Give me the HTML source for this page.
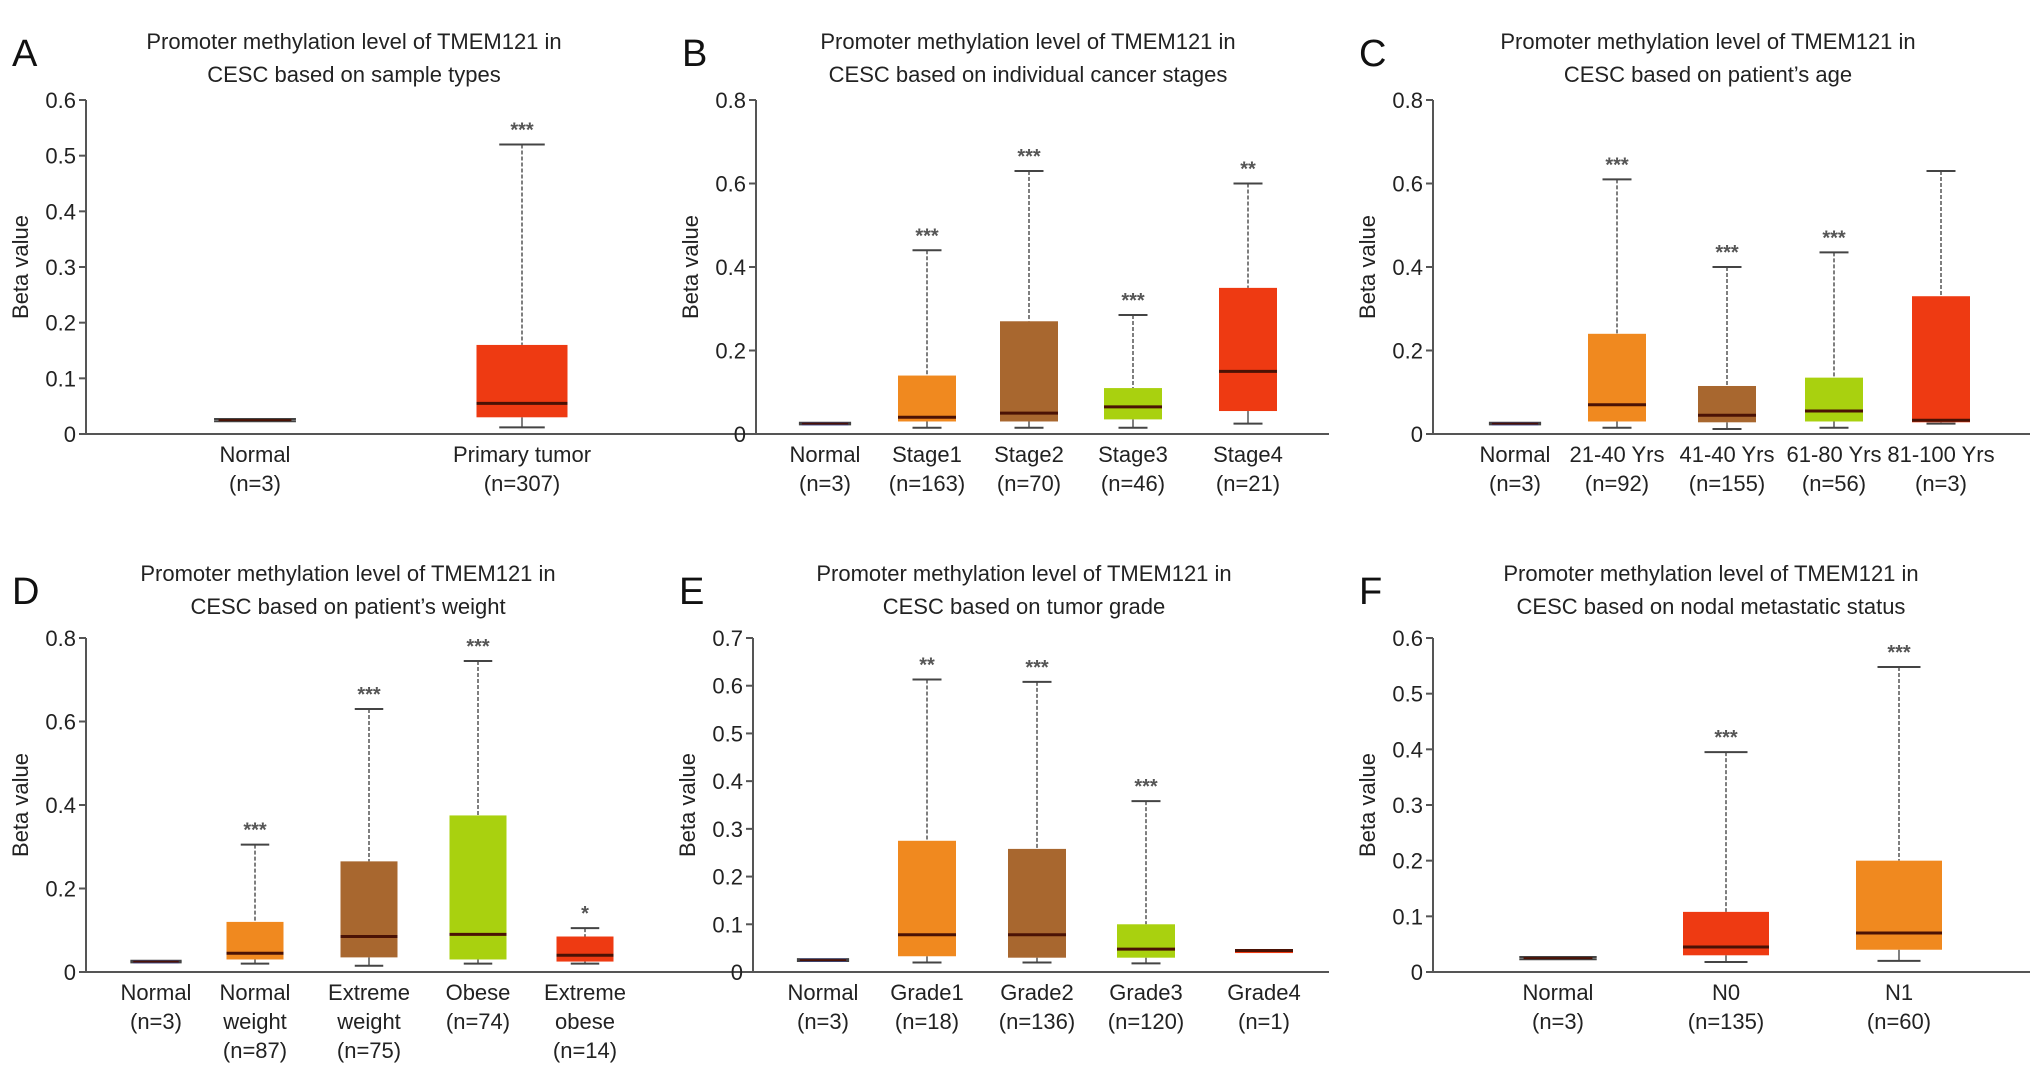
<!DOCTYPE html>
<html><head><meta charset="utf-8"><style>
body{margin:0;background:#fff;}
svg{display:block;font-family:"Liberation Sans",Arial,sans-serif;}
</style></head><body>
<svg id="fig" width="2032" height="1069" viewBox="0 0 2032 1069" xmlns="http://www.w3.org/2000/svg"></svg>
<script>
// ---- data ----
const aCats=[["Normal","(n=3)"],["Primary tumor","(n=307)"]];
const aLo=[0.023,0.012],aQ1=[0.022,0.03],aMed=[0.025,0.055],aQ3=[0.028,0.16],aHi=[0.027,0.52];
const aSig=["","***"];
const aTicks=[0,0.1,0.2,0.3,0.4,0.5,0.6];

const bCats=[["Normal","(n=3)"],["Stage1","(n=163)"],["Stage2","(n=70)"],["Stage3","(n=46)"],["Stage4","(n=21)"]];
const bLo=[0.023,0.015,0.015,0.015,0.025],bQ1=[0.022,0.03,0.03,0.035,0.055],bMed=[0.025,0.04,0.05,0.065,0.15],bQ3=[0.028,0.14,0.27,0.11,0.35],bHi=[0.027,0.44,0.63,0.285,0.6];
const bSig=["","***","***","***","**"];
const bTicks=[0,0.2,0.4,0.6,0.8];

const cCats=[["Normal","(n=3)"],["21-40 Yrs","(n=92)"],["41-40 Yrs","(n=155)"],["61-80 Yrs","(n=56)"],["81-100 Yrs","(n=3)"]];
const cLo=[0.023,0.015,0.012,0.015,0.025],cQ1=[0.022,0.03,0.028,0.03,0.028],cMed=[0.025,0.07,0.045,0.055,0.033],cQ3=[0.028,0.24,0.115,0.135,0.33],cHi=[0.027,0.61,0.4,0.435,0.63];
const cSig=["","***","***","***",""];
const cTicks=[0,0.2,0.4,0.6,0.8];

const dCats=[["Normal","(n=3)"],["Normal","weight","(n=87)"],["Extreme","weight","(n=75)"],["Obese","(n=74)"],["Extreme","obese","(n=14)"]];
const dLo=[0.023,0.02,0.015,0.02,0.02],dQ1=[0.022,0.03,0.035,0.03,0.025],dMed=[0.025,0.045,0.085,0.09,0.04],dQ3=[0.028,0.12,0.265,0.375,0.085],dHi=[0.027,0.305,0.63,0.745,0.105];
const dSig=["","***","***","***","*"];
const dTicks=[0,0.2,0.4,0.6,0.8];

const eCats=[["Normal","(n=3)"],["Grade1","(n=18)"],["Grade2","(n=136)"],["Grade3","(n=120)"],["Grade4","(n=1)"]];
const eLo=[0.023,0.02,0.02,0.018,0.045],eQ1=[0.022,0.033,0.03,0.03,0.044],eMed=[0.025,0.078,0.078,0.048,0.045],eQ3=[0.028,0.275,0.258,0.1,0.046],eHi=[0.027,0.613,0.608,0.358,0.045];
const eSig=["","**","***","***",""];
const eTicks=[0,0.1,0.2,0.3,0.4,0.5,0.6,0.7];

const fCats=[["Normal","(n=3)"],["N0","(n=135)"],["N1","(n=60)"]];
const fLo=[0.023,0.018,0.02],fQ1=[0.022,0.03,0.04],fMed=[0.025,0.045,0.07],fQ3=[0.028,0.108,0.2],fHi=[0.027,0.395,0.548];
const fSig=["","***","***"];
const fTicks=[0,0.1,0.2,0.3,0.4,0.5,0.6];

const RED="#ee3a12",ORA="#f0891f",BRN="#a8672f",GRN="#a9d10f",BLU="#3a4ca0";
const NS="http://www.w3.org/2000/svg";
const svg=document.getElementById('fig');
function mk(tag,attrs,parent,text){const e=document.createElementNS(NS,tag);for(const k in attrs)e.setAttribute(k,attrs[k]);if(text!==undefined)e.textContent=text;(parent||svg).appendChild(e);return e;}

function panel(p){
  const g=mk('g',{});
  
  
  const L=mk('text',{x:p.ax-74,y:p.top-34,'font-size':38,fill:'#111'},g,p.letter);
  
  p.title.forEach((t,i)=>{const e=mk('text',{x:p.tx,y:p.ty+i*33,'font-size':22,'text-anchor':'middle',fill:'#222'},g,t);
    });
  const ymax=p.ticks[p.ticks.length-1];
  const y=v=>p.y0-(v/ymax)*(p.y0-p.top);
  const n=p.cats.length;
  const x=i=>p.centers[i];
  // axes
  const ya=mk('line',{x1:p.ax,y1:p.top,x2:p.ax,y2:p.y0,stroke:'#555','stroke-width':2},g);
  
  const xa=mk('line',{x1:p.ax,y1:p.y0,x2:p.right,y2:p.y0,stroke:'#555','stroke-width':2},g);
  
  p.ticks.forEach(t=>{mk('line',{x1:p.ax-7,y1:y(t),x2:p.ax,y2:y(t),stroke:'#555','stroke-width':2},g);
    const e=mk('text',{x:p.ax-10,y:y(t)+8,'font-size':22,'text-anchor':'end',fill:'#222'},g,String(t));
    });
  const yt=mk('text',{x:0,y:0,'font-size':22,'text-anchor':'middle',fill:'#222',transform:`translate(${p.ax-58},${(p.top+p.y0)/2}) rotate(-90)`},g,'Beta value');
  
  for(let i=0;i<n;i++){
    const cx=x(i),w=p.bw,c=p.colors[i];
    const isN=i===0;
    const bg=mk('g',{},g);
    
    
    const cw=isN?w*0.9:w*0.5;
    mk('line',{x1:cx,y1:y(p.hi[i]),x2:cx,y2:y(p.q3[i]),stroke:'#555','stroke-width':1.5,'stroke-dasharray':'4,2'},bg);
    mk('line',{x1:cx,y1:y(p.lo[i]),x2:cx,y2:y(p.q1[i]),stroke:'#555','stroke-width':1.5},bg);
    mk('line',{x1:cx-cw/2,y1:y(p.hi[i]),x2:cx+cw/2,y2:y(p.hi[i]),stroke:'#444','stroke-width':2},bg);
    mk('line',{x1:cx-cw/2,y1:y(p.lo[i]),x2:cx+cw/2,y2:y(p.lo[i]),stroke:'#444','stroke-width':2},bg);
    const bw=isN?w*0.8:w;
    const h=Math.max(3,y(p.q1[i])-y(p.q3[i]));
    mk('rect',{x:cx-bw/2,y:y(p.q3[i]),width:bw,height:h,fill:c},bg);
    mk('line',{x1:cx-bw/2,y1:y(p.med[i]),x2:cx+bw/2,y2:y(p.med[i]),stroke:'#4a1205','stroke-width':isN?2:3},bg);
    if(p.sig[i]){const s=mk('text',{x:cx,y:y(p.hi[i])-8,'font-size':20,'font-weight':'bold','text-anchor':'middle',fill:'#555'},g,p.sig[i]);
      }
    p.cats[i].forEach((t,k)=>{const e=mk('text',{x:cx,y:p.y0+28+k*29,'font-size':22,'text-anchor':'middle',fill:'#222'},g,t);
      });
  }
}
panel({letter:'A',title:['Promoter methylation level of TMEM121 in','CESC based on sample types'],tx:354,ty:49,ax:86,top:100,y0:434,right:825,
  centers:[255,522],bw:91,colors:['#444',RED],cats:aCats,lo:aLo,q1:aQ1,med:aMed,q3:aQ3,hi:aHi,sig:aSig,ticks:aTicks});
panel({letter:'B',title:['Promoter methylation level of TMEM121 in','CESC based on individual cancer stages'],tx:1028,ty:49,ax:756,top:100,y0:434,right:1329,
  centers:[825,927,1029,1133,1248],bw:58,colors:[BLU,ORA,BRN,GRN,RED],cats:bCats,lo:bLo,q1:bQ1,med:bMed,q3:bQ3,hi:bHi,sig:bSig,ticks:bTicks});
panel({letter:'C',title:['Promoter methylation level of TMEM121 in','CESC based on patient\u2019s age'],tx:1708,ty:49,ax:1433,top:100,y0:434,right:2030,
  centers:[1515,1617,1727,1834,1941],bw:58,colors:[BLU,ORA,BRN,GRN,RED],cats:cCats,lo:cLo,q1:cQ1,med:cMed,q3:cQ3,hi:cHi,sig:cSig,ticks:cTicks});
panel({letter:'D',title:['Promoter methylation level of TMEM121 in','CESC based on patient\u2019s weight'],tx:348,ty:581,ax:86,top:638,y0:972,right:825,
  centers:[156,255,369,478,585],bw:57,colors:[BLU,ORA,BRN,GRN,RED],cats:dCats,lo:dLo,q1:dQ1,med:dMed,q3:dQ3,hi:dHi,sig:dSig,ticks:dTicks});
panel({letter:'E',title:['Promoter methylation level of TMEM121 in','CESC based on tumor grade'],tx:1024,ty:581,ax:753,top:638,y0:972,right:1329,
  centers:[823,927,1037,1146,1264],bw:58,colors:[BLU,ORA,BRN,GRN,RED],cats:eCats,lo:eLo,q1:eQ1,med:eMed,q3:eQ3,hi:eHi,sig:eSig,ticks:eTicks});
panel({letter:'F',title:['Promoter methylation level of TMEM121 in','CESC based on nodal metastatic status'],tx:1711,ty:581,ax:1433,top:638,y0:972,right:2030,
  centers:[1558,1726,1899],bw:86,colors:['#444',RED,ORA],cats:fCats,lo:fLo,q1:fQ1,med:fMed,q3:fQ3,hi:fHi,sig:fSig,ticks:fTicks});
</script>
</body></html>
